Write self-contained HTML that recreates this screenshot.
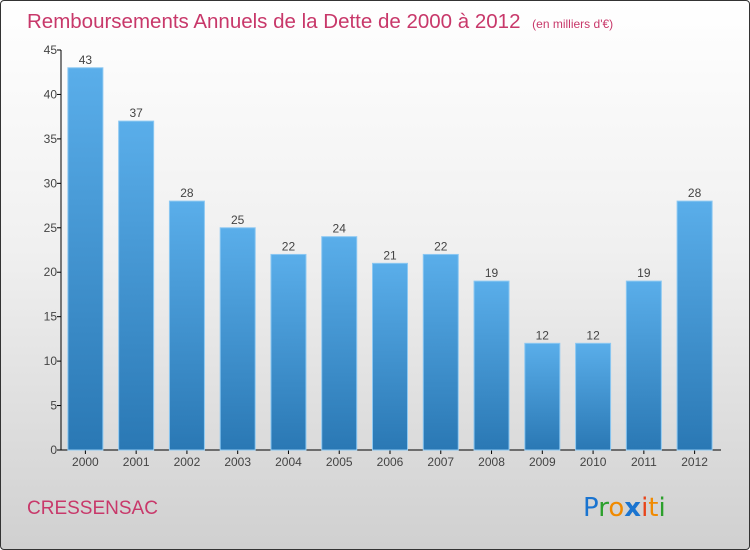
<!DOCTYPE html>
<html><head><meta charset="utf-8"><style>
html,body{margin:0;padding:0;}
body{width:750px;height:550px;overflow:hidden;font-family:"Liberation Sans",sans-serif;}
#frame{position:absolute;left:0;top:0;width:748px;height:548px;border:1px solid #333;border-radius:4px;background:linear-gradient(#ffffff 0%,#f0f0f0 45%,#d0d0d0 100%);}
</style></head><body>
<div id="frame">
<svg id="chart" width="750" height="550" style="position:absolute;left:-1px;top:-1px">
<defs><linearGradient id="bg" x1="0" y1="0" x2="0" y2="1"><stop offset="0" stop-color="#5aaeea"/><stop offset="1" stop-color="#2a78b4"/></linearGradient></defs>
<text x="27" y="28" font-size="20.5" fill="#c8386a">Remboursements Annuels de la Dette de 2000 à 2012 <tspan font-size="12" dx="6">(en milliers d'€)</tspan></text>
<text x="27" y="514" font-size="19" fill="#c8386a">CRESSENSAC</text>
<g font-size="26" font-family="DejaVu Sans, sans-serif">
<text x="583" y="516"><tspan fill="#1a74d0">P</tspan><tspan fill="#2ca02c">r</tspan><tspan fill="#f08a00">o</tspan><tspan fill="#1a74d0" font-weight="bold">x</tspan><tspan fill="#e8441a">i</tspan><tspan fill="#f08a00">t</tspan><tspan fill="#2ca02c">i</tspan></text>
</g>
<g id="axes"></g><g id="bars"></g>
</svg></div>
<script>
const categories=["2000","2001","2002","2003","2004","2005","2006","2007","2008","2009","2010","2011","2012"];
const values=[43,37,28,25,22,24,21,22,19,12,12,19,28];
const ticks=[0,5,10,15,20,25,30,35,40,45];
const NS="http://www.w3.org/2000/svg";
const x0=61,x1=721,yTop=50,yBot=450,yMax=45;
const band=(x1-x0)/categories.length;
function y(v){return yBot-(v/yMax)*(yBot-yTop);}
function xc(i){return x0+band*(i+0.5)-1;}
function mk(t,a,p){const e=document.createElementNS(NS,t);for(const k in a)e.setAttribute(k,a[k]);p.appendChild(e);return e;}
const ax=document.getElementById('axes'),bs=document.getElementById('bars');
const yl=mk('line',{x1:x0,y1:yTop,x2:x0,y2:yBot,stroke:'#000'},ax);


const xl=mk('line',{x1:x0,y1:yBot,x2:x1,y2:yBot,stroke:'#000'},ax);


ticks.forEach(t=>{
 mk('line',{x1:x0-4,y1:y(t),x2:x0,y2:y(t),stroke:'#000'},ax);
 const tx=mk('text',{x:x0-4,y:y(t)+4,'text-anchor':'end','font-size':12,fill:'#444'},ax);
 tx.textContent=t;
 
 
});
categories.forEach((c,i)=>{
 const cx=xc(i),v=values[i];
 mk('line',{x1:cx,y1:yBot,x2:cx,y2:yBot+4,stroke:'#000'},ax);
 const r=mk('rect',{x:cx-17.5,y:y(v),width:35,height:yBot-y(v),fill:'url(#bg)',stroke:'#8cc8f2','stroke-width':1},bs);
 
 
 const lb=mk('text',{x:cx,y:y(v)-4,'text-anchor':'middle','font-size':12,fill:'#444'},bs);
 lb.textContent=v;
 
 
 const xt=mk('text',{x:cx,y:yBot+16,'text-anchor':'middle','font-size':12,fill:'#444'},ax);
 xt.textContent=c;
 
 
});
</script>
</body></html>
